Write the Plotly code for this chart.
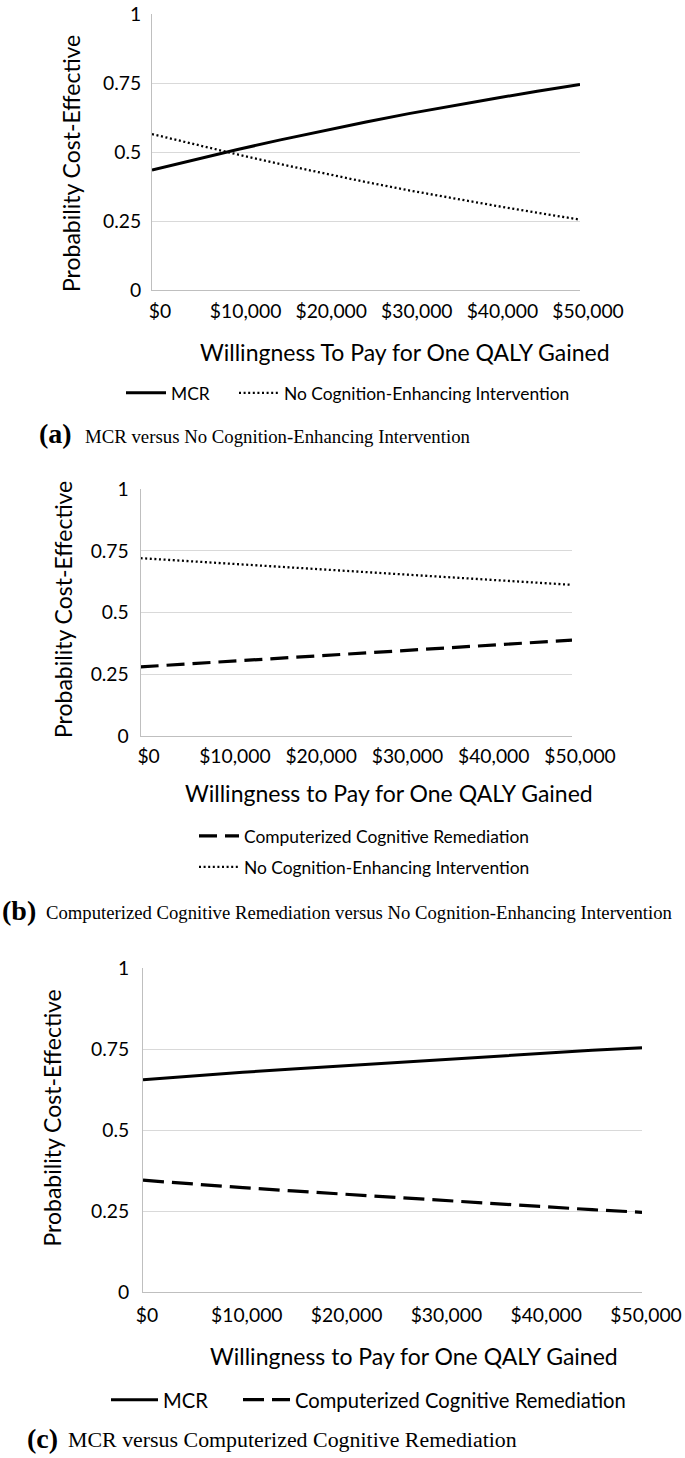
import plotly.graph_objects as go

W, H = 685, 1458

# ---------------- data ----------------
wtp = [0, 5000, 10000, 15000, 20000, 25000, 30000, 35000, 40000, 45000, 50000]
tick_vals = [0, 10000, 20000, 30000, 40000, 50000]
tick_text = ["$0", "$10,000", "$20,000", "$30,000", "$40,000", "$50,000"]
y_tick_vals = [0, 0.25, 0.5, 0.75, 1]
y_tick_text = ["0", "0.25", "0.5", "0.75", "1"]

# panel (a)
a_mcr = [0.435, 0.473, 0.509, 0.544, 0.577, 0.609, 0.639, 0.667, 0.694, 0.720, 0.745]
a_none = [0.565, 0.527, 0.491, 0.456, 0.423, 0.391, 0.361, 0.333, 0.306, 0.280, 0.255]
# panel (b)
b_ccr = [0.280, 0.291, 0.302, 0.313, 0.324, 0.335, 0.345, 0.356, 0.367, 0.378, 0.388]
b_none = [0.720, 0.709, 0.698, 0.687, 0.676, 0.665, 0.655, 0.644, 0.633, 0.622, 0.612]
# panel (c)
c_mcr = [0.655, 0.667, 0.678, 0.688, 0.698, 0.708, 0.718, 0.728, 0.737, 0.746, 0.754]
c_ccr = [0.345, 0.333, 0.322, 0.312, 0.302, 0.292, 0.282, 0.272, 0.263, 0.254, 0.246]

name_mcr = "MCR"
name_none = "No Cognition-Enhancing Intervention"
name_ccr = "Computerized Cognitive Remediation"
x_title_a = "Willingness To Pay for One QALY Gained"
x_title_bc = "Willingness to Pay for One QALY Gained"
y_title = "Probability Cost-Effective"
cap_a = "MCR versus No Cognition-Enhancing Intervention"
cap_b = "Computerized Cognitive Remediation versus No Cognition-Enhancing Intervention"
cap_c = "MCR versus Computerized Cognitive Remediation"

FONT = "Lato"
SERIF = "Liberation Serif"
DOT = "2px,2.6px"
DASH_B = "18px,8px"
DASH_C = "21px,8px"


def X(px):
    return px / W


def Y(py):
    return 1 - py / H


fig = go.Figure()

fig.add_trace(go.Scatter(x=wtp, y=a_mcr, name=name_mcr, mode="lines",
                         line=dict(color="black", width=3), xaxis="x", yaxis="y",
                         legend="legend"))
fig.add_trace(go.Scatter(x=wtp, y=a_none, name=name_none, mode="lines",
                         line=dict(color="black", width=2.3, dash=DOT), xaxis="x", yaxis="y",
                         legend="legend2"))

fig.add_trace(go.Scatter(x=wtp, y=b_ccr, name=name_ccr, mode="lines",
                         line=dict(color="black", width=3.2, dash=DASH_B), xaxis="x2", yaxis="y2",
                         legend="legend3"))
fig.add_trace(go.Scatter(x=wtp, y=b_none, name=name_none, mode="lines",
                         line=dict(color="black", width=2.3, dash=DOT), xaxis="x2", yaxis="y2",
                         legend="legend4"))

fig.add_trace(go.Scatter(x=wtp, y=c_mcr, name=name_mcr, mode="lines",
                         line=dict(color="black", width=3), xaxis="x3", yaxis="y3",
                         legend="legend5"))
fig.add_trace(go.Scatter(x=wtp, y=c_ccr, name=name_ccr, mode="lines",
                         line=dict(color="black", width=3.2, dash=DASH_C), xaxis="x3", yaxis="y3",
                         legend="legend6"))

panels = {
    "": dict(x=(152, 580), y=(14, 290), shift=8, xlen=4, ylen=6),
    "2": dict(x=(140.6, 572), y=(489, 736), shift=8, xlen=3, ylen=7),
    "3": dict(x=(143, 642), y=(968, 1292), shift=4, xlen=6, ylen=9),
}

layout = dict(
    width=W, height=H,
    margin=dict(l=0, r=0, t=0, b=0, pad=0, autoexpand=False),
    paper_bgcolor="white", plot_bgcolor="white",
    font=dict(family=FONT, color="black", size=19),
    hovermode=False, showlegend=True,
)

for suf, p in panels.items():
    layout["xaxis" + suf] = dict(
        domain=[X(p["x"][0]), X(p["x"][1])], anchor="y" + suf,
        range=[0, 50000], tickvals=tick_vals, ticktext=tick_text,
        showgrid=False, zeroline=False, showline=True, linecolor="#bfbfbf", linewidth=1,
        ticks="outside", ticklen=p["xlen"], tickcolor="rgba(0,0,0,0)",
        ticklabelshift=p["shift"], automargin=False,
        tickfont=dict(family=FONT, size=19.3, color="black"), fixedrange=True,
    )
    layout["yaxis" + suf] = dict(
        domain=[Y(p["y"][1]), Y(p["y"][0])], anchor="x" + suf,
        range=[0, 1], tickvals=y_tick_vals, ticktext=y_tick_text,
        showgrid=True, gridcolor="#d9d9d9", gridwidth=1,
        zeroline=False, showline=True, linecolor="#bfbfbf", linewidth=1,
        ticks="outside", ticklen=p["ylen"], tickcolor="rgba(0,0,0,0)", automargin=False,
        tickfont=dict(family=FONT, size=19.3, color="black"), fixedrange=True,
    )


def leg(px, py, size, iw):
    return dict(orientation="h", x=X(px), y=Y(py), xanchor="left", yanchor="middle",
                font=dict(family=FONT, size=size, color="black"), itemwidth=iw,
                bgcolor="rgba(0,0,0,0)", borderwidth=0, visible=True)


layout["legend"] = leg(121, 393, 17.4, 40)
layout["legend2"] = leg(234, 393, 17.4, 40)
layout["legend3"] = leg(194, 836, 17.4, 40)
layout["legend4"] = leg(194, 867, 17.4, 40)
layout["legend5"] = leg(106, 1400, 20.2, 47)
layout["legend6"] = leg(238, 1400, 20.2, 47)

ann = []


def txt(text, px, py, size, family=FONT, angle=0, xanchor="center", bold=False):
    ann.append(dict(text=("<b>%s</b>" % text) if bold else text, x=X(px), y=Y(py),
                    xref="paper", yref="paper", showarrow=False, textangle=angle,
                    xanchor=xanchor, yanchor="middle",
                    font=dict(family=family, size=size, color="black")))


# axis titles
txt(y_title, 71, 164, 23, angle=-90)
txt(y_title, 63, 610, 23, angle=-90)
txt(y_title, 51.5, 1118, 23, angle=-90)
txt(x_title_a, 405, 352, 23)
txt(x_title_bc, 389, 793, 23)
txt(x_title_bc, 414, 1356, 23)

# captions
txt("(a)", 37, 434, 28, family=SERIF, xanchor="left", bold=True)
txt(cap_a, 83, 436, 18.8, family=SERIF, xanchor="left")
txt("(b)", 0, 911, 28, family=SERIF, xanchor="left", bold=True)
txt(cap_b, 44, 912, 18.7, family=SERIF, xanchor="left")
txt("(c)", 25, 1438, 28, family=SERIF, xanchor="left", bold=True)
txt(cap_c, 66, 1439, 21.9, family=SERIF, xanchor="left")

layout["annotations"] = ann
fig.update_layout(**layout)
fig.write_html("out.html", config={"displayModeBar": False, "staticPlot": True},
               post_script="document.body.style.margin='0px';")
